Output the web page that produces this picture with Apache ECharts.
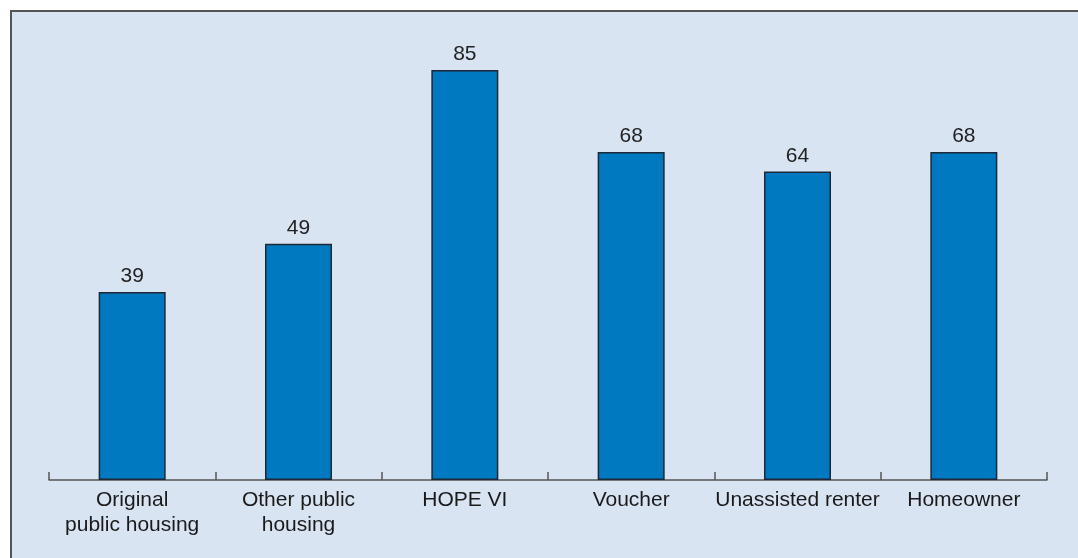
<html>
    <head>
        <meta charset="utf-8">
        <script src="https://cdn.jsdelivr.net/npm/echarts@6/dist/echarts.min.js"></script>
        <style>
            html, body { margin: 0; padding: 0; background: #fff; }
            #main { width: 1078px; height: 558px; }
        </style>
    </head>
    <body>
        <div id="main"></div>
        <script>
            var categories = [
                'Original\npublic housing',
                'Other public\nhousing',
                'HOPE VI',
                'Voucher',
                'Unassisted renter',
                'Homeowner'
            ];
            var values = [39, 49, 85, 68, 64, 68];

            var chart = echarts.init(document.getElementById('main'));

            chart.setOption({
                animation: false,
                graphic: [
                    {
                        type: 'rect',
                        z: -10,
                        shape: {x: 10, y: 10, width: 1068, height: 548},
                        style: {fill: '#d9e4f3'}
                    },
                    {
                        type: 'polyline',
                        z: -9,
                        shape: {points: [[11, 558], [11, 11], [1078, 11]]},
                        style: {stroke: '#555', lineWidth: 2, fill: null}
                    }
                ],
                grid: {
                    left: 49,
                    right: 31,
                    top: 46,
                    bottom: 78
                },
                xAxis: {
                    type: 'category',
                    data: categories,
                    axisLine: {
                        lineStyle: {color: '#555', width: 1.5}
                    },
                    axisTick: {
                        show: true,
                        inside: true,
                        length: 8,
                        alignWithLabel: false,
                        interval: 0,
                        lineStyle: {color: '#555', width: 1.5}
                    },
                    axisLabel: {
                        color: '#1a1a1a',
                        fontFamily: 'Liberation Sans, Arial, sans-serif',
                        fontSize: 21,
                        lineHeight: 25,
                        margin: 8,
                        interval: 0
                    }
                },
                yAxis: {
                    type: 'value',
                    min: 0,
                    max: 90,
                    show: false,
                    splitLine: {show: false}
                },
                series: [
                    {
                        type: 'bar',
                        data: values,
                        barWidth: 67,
                        itemStyle: {
                            color: '#0079c1',
                            borderColor: '#1c2836',
                            borderWidth: 1.5
                        },
                        label: {
                            show: true,
                            position: 'top',
                            distance: 5,
                            color: '#222',
                            fontFamily: 'Liberation Sans, Arial, sans-serif',
                            fontSize: 21
                        }
                    }
                ]
            });
        </script>
    </body>
</html>
